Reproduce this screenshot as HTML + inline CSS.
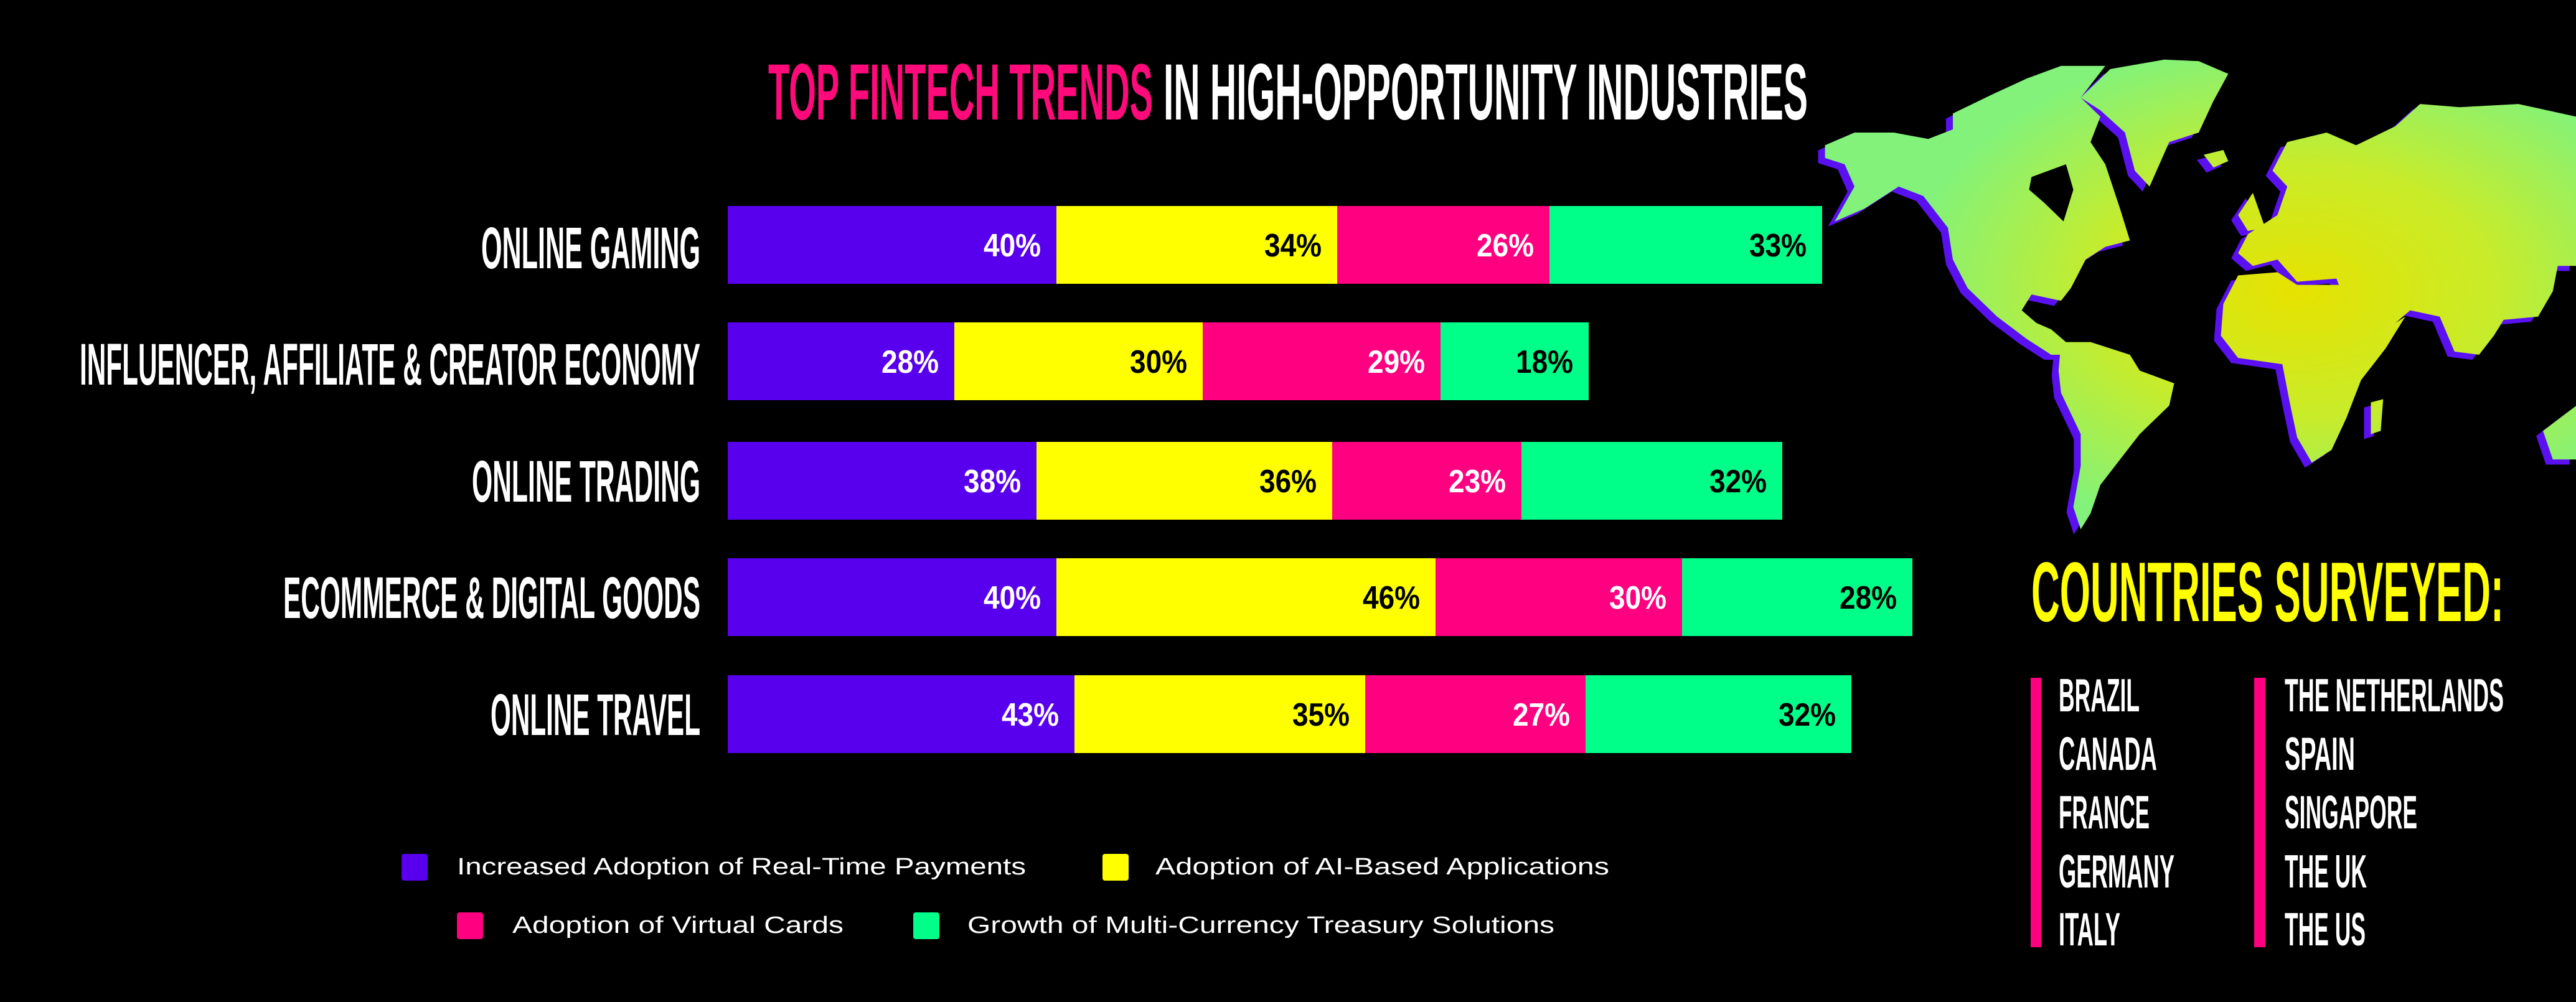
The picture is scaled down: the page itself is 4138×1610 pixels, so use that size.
<!DOCTYPE html>
<html><head><meta charset="utf-8"><style>
html,body{margin:0;padding:0;background:#000;}
svg{display:block;}
</style></head><body>
<svg width="4138" height="1610" viewBox="0 0 4138 1610" xmlns="http://www.w3.org/2000/svg">
<defs>
<radialGradient id="mg" gradientUnits="userSpaceOnUse" cx="1000" cy="800" r="800">
<stop offset="0" stop-color="#e6e200"/>
<stop offset="0.5" stop-color="#c8ec2a"/>
<stop offset="1" stop-color="#82f27a"/>
</radialGradient>
</defs>
<rect width="4138" height="1610" fill="#000"/>

<!-- Map -->
<g transform="translate(2900,60) scale(0.79,0.51)">
<g id="land-shadow" fill="#5a10f0" transform="translate(-14,16)">
<polygon points="40,340 100,300 180,300 250,320 300,290 300,240 380,180 450,130 520,90 610,90 560,190 600,250 580,330 610,400 640,540 660,640 610,660 570,700 540,790 520,830 460,810 440,860 470,900 500,920 530,960 540,1000 500,1000 450,950 390,880 330,790 300,700 290,600 240,500 190,470 120,540 60,580 100,470 80,400 40,380"/>
<polygon points="560,190 620,100 730,70 800,75 860,115 830,200 800,300 740,330 700,470 670,420 650,300 600,230"/>
<polygon points="520,960 580,960 660,1000 680,1050 750,1090 740,1160 680,1250 640,1330 600,1410 580,1500 560,1550 545,1480 560,1350 560,1250 520,1120 515,1050"/>
<polygon points="950,420 980,330 1060,300 1120,340 1200,280 1250,210 1330,220 1450,210 1568,250 1568,720 1530,720 1520,800 1490,880 1420,890 1400,940 1370,1000 1320,990 1290,880 1230,860 1200,900 1150,960 1100,840 1080,760 1000,770 960,700 910,720 880,680 900,620 960,560 980,470"/>
<polygon points="880,750 960,740 1000,780 1090,780 1110,820 1150,950 1220,880 1180,980 1130,1080 1100,1200 1070,1300 1030,1340 1000,1260 985,1150 970,1030 880,1010 845,940 850,840"/>
<polygon points="880,560 910,490 935,600 900,610"/>
<polygon points="1500,1240 1568,1160 1568,1330 1520,1330"/>
<polygon points="810,370 850,355 860,390 830,410"/>
<polygon points="1150,1150 1175,1140 1170,1240 1150,1250"/>
</g>
<g fill="url(#mg)">
<polygon points="40,340 100,300 180,300 250,320 300,290 300,240 380,180 450,130 520,90 610,90 560,190 600,250 580,330 610,400 640,540 660,640 610,660 570,700 540,790 520,830 460,810 440,860 470,900 500,920 530,960 540,1000 500,1000 450,950 390,880 330,790 300,700 290,600 240,500 190,470 120,540 60,580 100,470 80,400 40,380"/>
<polygon points="560,190 620,100 730,70 800,75 860,115 830,200 800,300 740,330 700,470 670,420 650,300 600,230"/>
<polygon points="520,960 580,960 660,1000 680,1050 750,1090 740,1160 680,1250 640,1330 600,1410 580,1500 560,1550 545,1480 560,1350 560,1250 520,1120 515,1050"/>
<polygon points="950,420 980,330 1060,300 1120,340 1200,280 1250,210 1330,220 1450,210 1568,250 1568,720 1530,720 1520,800 1490,880 1420,890 1400,940 1370,1000 1320,990 1290,880 1230,860 1200,900 1150,960 1100,840 1080,760 1000,770 960,700 910,720 880,680 900,620 960,560 980,470"/>
<polygon points="880,750 960,740 1000,780 1090,780 1110,820 1150,950 1220,880 1180,980 1130,1080 1100,1200 1070,1300 1030,1340 1000,1260 985,1150 970,1030 880,1010 845,940 850,840"/>
<polygon points="880,560 910,490 935,600 900,610"/>
<polygon points="1500,1240 1568,1160 1568,1330 1520,1330"/>
<polygon points="810,370 850,355 860,390 830,410"/>
<polygon points="1150,1150 1175,1140 1170,1240 1150,1250"/>
</g>
<polygon fill="#000" points="460,440 530,400 545,480 525,580 485,520 455,480"/>
</g>

<!-- Title -->
<g font-family="Liberation Sans, sans-serif" font-weight="bold" font-size="128">
<text x="1234" y="192" fill="#ff0a7a" textLength="618" lengthAdjust="spacingAndGlyphs">TOP FINTECH TRENDS</text>
<text x="1869" y="192" fill="#fff" textLength="1035" lengthAdjust="spacingAndGlyphs">IN HIGH-OPPORTUNITY INDUSTRIES</text>
</g>

<!-- Category labels -->
<g font-family="Liberation Sans, sans-serif" font-weight="bold" font-size="95" fill="#fff" text-anchor="end">
<text x="1125" y="431" textLength="352" lengthAdjust="spacingAndGlyphs">ONLINE GAMING</text>
<text x="1125" y="618" textLength="997" lengthAdjust="spacingAndGlyphs">INFLUENCER, AFFILIATE &amp; CREATOR ECONOMY</text>
<text x="1125" y="806" textLength="367" lengthAdjust="spacingAndGlyphs">ONLINE TRADING</text>
<text x="1125" y="993" textLength="670" lengthAdjust="spacingAndGlyphs">ECOMMERCE &amp; DIGITAL GOODS</text>
<text x="1125" y="1181" textLength="337" lengthAdjust="spacingAndGlyphs">ONLINE TRAVEL</text>
</g>

<!-- Bars -->
<g>
<rect x="1169" y="331" width="528" height="125" fill="#5800ee"/>
<rect x="1697" y="331" width="451" height="125" fill="#ffff00"/>
<rect x="2148" y="331" width="341" height="125" fill="#ff0080"/>
<rect x="2489" y="331" width="438" height="125" fill="#00ff88"/>

<rect x="1169" y="518" width="364" height="125" fill="#5800ee"/>
<rect x="1533" y="518" width="399" height="125" fill="#ffff00"/>
<rect x="1932" y="518" width="382" height="125" fill="#ff0080"/>
<rect x="2314" y="518" width="238" height="125" fill="#00ff88"/>

<rect x="1169" y="710" width="496" height="125" fill="#5800ee"/>
<rect x="1665" y="710" width="475" height="125" fill="#ffff00"/>
<rect x="2140" y="710" width="304" height="125" fill="#ff0080"/>
<rect x="2444" y="710" width="419" height="125" fill="#00ff88"/>

<rect x="1169" y="897" width="528" height="125" fill="#5800ee"/>
<rect x="1697" y="897" width="609" height="125" fill="#ffff00"/>
<rect x="2306" y="897" width="396" height="125" fill="#ff0080"/>
<rect x="2702" y="897" width="370" height="125" fill="#00ff88"/>

<rect x="1169" y="1085" width="557" height="125" fill="#5800ee"/>
<rect x="1726" y="1085" width="467" height="125" fill="#ffff00"/>
<rect x="2193" y="1085" width="354" height="125" fill="#ff0080"/>
<rect x="2547" y="1085" width="427" height="125" fill="#00ff88"/>
</g>

<!-- Percent labels -->
<g font-family="Liberation Sans, sans-serif" font-weight="bold" font-size="52" text-anchor="end">
<text x="1672" y="412" fill="#fff" textLength="92" lengthAdjust="spacingAndGlyphs">40%</text>
<text x="2123" y="412" fill="#000" textLength="92" lengthAdjust="spacingAndGlyphs">34%</text>
<text x="2464" y="412" fill="#fff" textLength="92" lengthAdjust="spacingAndGlyphs">26%</text>
<text x="2902" y="412" fill="#000" textLength="92" lengthAdjust="spacingAndGlyphs">33%</text>

<text x="1508" y="599" fill="#fff" textLength="92" lengthAdjust="spacingAndGlyphs">28%</text>
<text x="1907" y="599" fill="#000" textLength="92" lengthAdjust="spacingAndGlyphs">30%</text>
<text x="2289" y="599" fill="#fff" textLength="92" lengthAdjust="spacingAndGlyphs">29%</text>
<text x="2527" y="599" fill="#000" textLength="92" lengthAdjust="spacingAndGlyphs">18%</text>

<text x="1640" y="791" fill="#fff" textLength="92" lengthAdjust="spacingAndGlyphs">38%</text>
<text x="2115" y="791" fill="#000" textLength="92" lengthAdjust="spacingAndGlyphs">36%</text>
<text x="2419" y="791" fill="#fff" textLength="92" lengthAdjust="spacingAndGlyphs">23%</text>
<text x="2838" y="791" fill="#000" textLength="92" lengthAdjust="spacingAndGlyphs">32%</text>

<text x="1672" y="978" fill="#fff" textLength="92" lengthAdjust="spacingAndGlyphs">40%</text>
<text x="2281" y="978" fill="#000" textLength="92" lengthAdjust="spacingAndGlyphs">46%</text>
<text x="2677" y="978" fill="#fff" textLength="92" lengthAdjust="spacingAndGlyphs">30%</text>
<text x="3047" y="978" fill="#000" textLength="92" lengthAdjust="spacingAndGlyphs">28%</text>

<text x="1701" y="1166" fill="#fff" textLength="92" lengthAdjust="spacingAndGlyphs">43%</text>
<text x="2168" y="1166" fill="#000" textLength="92" lengthAdjust="spacingAndGlyphs">35%</text>
<text x="2522" y="1166" fill="#fff" textLength="92" lengthAdjust="spacingAndGlyphs">27%</text>
<text x="2949" y="1166" fill="#000" textLength="92" lengthAdjust="spacingAndGlyphs">32%</text>
</g>

<!-- Legend -->
<rect x="645" y="1372" width="42" height="43" rx="4" fill="#5800ee"/>
<rect x="1771" y="1372" width="42" height="43" rx="4" fill="#ffff00"/>
<rect x="734" y="1466" width="42" height="43" rx="4" fill="#ff0080"/>
<rect x="1467" y="1466" width="42" height="43" rx="4" fill="#00ff88"/>
<g font-family="Liberation Sans, sans-serif" font-size="38" fill="#fff">
<text x="734" y="1405" textLength="914" lengthAdjust="spacingAndGlyphs">Increased Adoption of Real-Time Payments</text>
<text x="1856" y="1405" textLength="729" lengthAdjust="spacingAndGlyphs">Adoption of AI-Based Applications</text>
<text x="823" y="1499" textLength="532" lengthAdjust="spacingAndGlyphs">Adoption of Virtual Cards</text>
<text x="1554" y="1499" textLength="943" lengthAdjust="spacingAndGlyphs">Growth of Multi-Currency Treasury Solutions</text>
</g>

<!-- Countries -->
<text x="3263" y="998" font-family="Liberation Sans, sans-serif" font-weight="bold" font-size="136" fill="#ffff00" textLength="759" lengthAdjust="spacingAndGlyphs">COUNTRIES SURVEYED:</text>
<rect x="3262" y="1089" width="17" height="433" fill="#ff0080"/>
<rect x="3621" y="1089" width="18" height="433" fill="#ff0080"/>
<g font-family="Liberation Sans, sans-serif" font-weight="bold" font-size="75" fill="#fff">
<text x="3307" y="1143" textLength="130" lengthAdjust="spacingAndGlyphs">BRAZIL</text>
<text x="3307" y="1237" textLength="158" lengthAdjust="spacingAndGlyphs">CANADA</text>
<text x="3307" y="1331" textLength="146" lengthAdjust="spacingAndGlyphs">FRANCE</text>
<text x="3307" y="1426" textLength="186" lengthAdjust="spacingAndGlyphs">GERMANY</text>
<text x="3307" y="1519" textLength="99" lengthAdjust="spacingAndGlyphs">ITALY</text>
<text x="3670" y="1143" textLength="352" lengthAdjust="spacingAndGlyphs">THE NETHERLANDS</text>
<text x="3670" y="1237" textLength="113" lengthAdjust="spacingAndGlyphs">SPAIN</text>
<text x="3670" y="1331" textLength="213" lengthAdjust="spacingAndGlyphs">SINGAPORE</text>
<text x="3670" y="1426" textLength="132" lengthAdjust="spacingAndGlyphs">THE UK</text>
<text x="3670" y="1519" textLength="130" lengthAdjust="spacingAndGlyphs">THE US</text>
</g>
</svg>
</body></html>
